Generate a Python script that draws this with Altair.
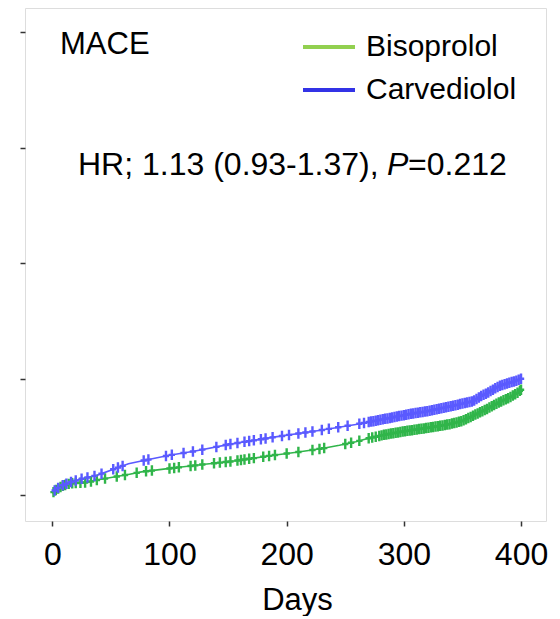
import altair as alt
import numpy as np
import pandas as pd

FONT = "Liberation Sans"

# ---- curve readings (cumulative incidence, %) ----
carv_days = [0, 3, 8, 15, 25, 38, 54, 65, 79, 100, 122, 152, 189, 229, 259, 275, 290, 305,
             320, 337, 350, 359, 366, 371, 381, 390, 395, 400]
carv_vals = [0.1, 0.25, 0.4, 0.55, 0.7, 0.85, 1.15, 1.35, 1.5, 1.72, 1.9, 2.2, 2.5, 2.8,
             3.05, 3.2, 3.35, 3.5, 3.62, 3.8, 3.95, 4.05, 4.28, 4.4, 4.7, 4.85, 4.92, 5.02]

biso_days = [0, 3, 8, 15, 30, 38, 55, 66, 76, 95, 112, 130, 152, 170, 189, 210, 229, 245, 259,
             270, 283, 300, 320, 338, 350, 360, 371, 381, 390, 398, 400]
biso_vals = [0.08, 0.22, 0.38, 0.5, 0.55, 0.65, 0.8, 0.9, 1.0, 1.12, 1.22, 1.33, 1.45, 1.58, 1.72,
             1.86, 2.0, 2.15, 2.3, 2.45, 2.6, 2.75, 2.9, 3.05, 3.2, 3.45, 3.72, 4.0, 4.2, 4.45, 4.55]

# ---- censoring times (days) ----
carv_censor = [2, 5, 9, 12, 16, 20, 25, 30, 36, 42, 52, 56, 60, 78, 82, 97, 102, 112, 120, 128,
               140, 148, 152, 158, 164, 168, 172, 178, 182, 188, 196, 202, 210, 216, 222, 230,
               236, 244, 252, 262, 266, 270, 272, 274, 276, 278, 280, 282, 284, 286, 288, 290,
               292, 294, 296, 298, 300, 302, 304, 306, 308, 310, 312, 314, 316, 318, 320, 322,
               324, 326, 328, 330, 332, 334, 336, 338, 340, 342, 344, 346, 348, 350, 352, 354,
               356, 358, 360, 362, 364, 366, 368, 370, 372, 374, 376, 378, 380, 382, 384, 386,
               388, 390, 392, 394, 396, 398, 400]
biso_censor = [1, 3, 5, 7, 9, 11, 14, 17, 20, 24, 28, 33, 38, 45, 55, 62, 72, 80, 85, 100, 104,
               108, 118, 122, 128, 138, 143, 148, 152, 158, 161, 164, 168, 172, 180, 185, 190,
               200, 210, 222, 228, 232, 250, 255, 262, 270, 273, 276, 279, 281, 283, 285, 287,
               289, 291, 293, 295, 297, 299, 301, 303, 305, 307, 309, 311, 313, 315, 317, 319,
               321, 323, 325, 327, 329, 331, 333, 335, 337, 339, 341, 343, 345, 347, 349, 351,
               353, 355, 357, 359, 361, 363, 365, 367, 369, 371, 373, 375, 377, 379, 381, 383,
               385, 387, 389, 391, 393, 395, 397, 399, 400]

series = ["Bisoprolol", "Carvediolol"]
curve_colors = ["#30b54a", "#5a5aff"]
legend_colors = ["#92d050", "#3333e6"]

x_ticks = [0, 100, 200, 300, 400]
y_ticks = [0, 5, 10, 15, 20]

title_text = "MACE"
hr_text = "HR; 1.13 (0.93-1.37), "
p_text = "P"
pval_text = "=0.212"
x_title = "Days"

# ---- tables ----
curves = pd.concat([
    pd.DataFrame({"day": biso_days, "val": biso_vals, "grp": series[0]}),
    pd.DataFrame({"day": carv_days, "val": carv_vals, "grp": series[1]}),
], ignore_index=True)

cens = pd.concat([
    pd.DataFrame({"day": biso_censor,
                  "val": np.interp(biso_censor, biso_days, biso_vals), "grp": series[0]}),
    pd.DataFrame({"day": carv_censor,
                  "val": np.interp(carv_censor, carv_days, carv_vals), "grp": series[1]}),
], ignore_index=True)

xs = alt.Scale(domain=[-23.3, 421.3], nice=False, zero=False)
ys = alt.Scale(domain=[-1.12, 21.03], nice=False, zero=False)
cs = alt.Scale(domain=series, range=curve_colors)

x_enc = alt.X("day:Q", scale=xs, axis=alt.Axis(
    values=x_ticks, title=x_title, domain=False, grid=False, tickSize=5, tickColor="#333",
    tickWidth=1.5, labelFontSize=32, labelFont=FONT, labelColor="#000", labelPadding=13,
    titleFontSize=31, titleFont=FONT, titleFontWeight="normal", titleColor="#000",
    titlePadding=15, titleX=272, titleAlign="center", labelFlush=False))
y_enc = alt.Y("val:Q", scale=ys, axis=alt.Axis(
    values=y_ticks, labels=False, title=None, domain=False, grid=False, tickSize=5,
    tickColor="#333", tickWidth=1.5))

lines = alt.Chart(curves).mark_line(strokeWidth=1.6, interpolate="linear").encode(
    x=x_enc, y=y_enc,
    color=alt.Color("grp:N", scale=cs, legend=None),
    detail="grp:N", order="day:Q")

marks = alt.Chart(cens).mark_point(
    shape="M-0.6,0H0.6M0,-1V1", size=110, filled=False, strokeWidth=2.4, opacity=1).encode(
    x=alt.X("day:Q", scale=xs), y=alt.Y("val:Q", scale=ys),
    color=alt.Color("grp:N", scale=cs, legend=None))

# ---- legend (drawn manually) ----
leg_y = [39, 82]
legend_layers = []
for name, col, yy in zip(series, legend_colors, leg_y):
    d = pd.DataFrame({"grp": [name]})
    legend_layers.append(alt.Chart(d).mark_rule(strokeWidth=4, color=col).encode(
        x=alt.value(278), x2=alt.value(330), y=alt.value(yy)))
    legend_layers.append(alt.Chart(d).mark_text(
        align="left", baseline="middle", fontSize=30, font=FONT, color="#000").encode(
        x=alt.value(341), y=alt.value(yy), text="grp:N"))

mace = alt.Chart(pd.DataFrame({"t": [title_text]})).mark_text(
    align="left", baseline="middle", fontSize=31, font=FONT, color="#000").encode(
    x=alt.value(35), y=alt.value(37), text="t:N")

hr = alt.Chart(pd.DataFrame({"t": [hr_text]})).mark_text(
    align="left", baseline="middle", fontSize=32, font=FONT, color="#000").encode(
    x=alt.value(53), y=alt.value(157), text="t:N")
pp = alt.Chart(pd.DataFrame({"t": [p_text]})).mark_text(
    align="left", baseline="middle", fontSize=32, font=FONT, fontStyle="italic",
    color="#000").encode(x=alt.value(362), y=alt.value(157), text="t:N")
pv = alt.Chart(pd.DataFrame({"t": [pval_text]})).mark_text(
    align="left", baseline="middle", fontSize=32, font=FONT, color="#000").encode(
    x=alt.value(383), y=alt.value(157), text="t:N")

chart = alt.layer(lines, marks, *legend_layers, mace, hr, pp, pv).properties(
    width=521, height=513,
    padding={"left": 17, "top": 0, "right": 6, "bottom": 95},
    autosize=alt.AutoSizeParams(type="none"),
).configure_view(stroke="#444", strokeWidth=1.6).configure(background="white")

chart.save("out.html", embed_options={"renderer": "svg", "actions": False})
